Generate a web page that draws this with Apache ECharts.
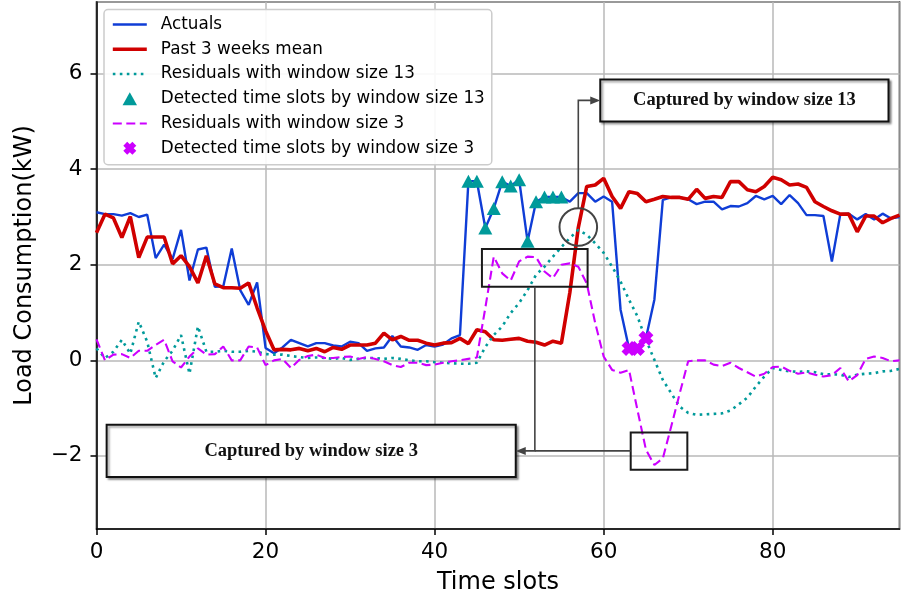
<!DOCTYPE html>
<html>
<head>
<meta charset="utf-8">
<script src="https://cdn.jsdelivr.net/npm/echarts@6/dist/echarts.min.js"></script>
<style>
  html, body { margin: 0; padding: 0; background: #ffffff; }
  #chart { width: 901px; height: 605px; }
</style>
</head>
<body>
<div id="chart"></div>
<script>
// Load profile for one day, 96 quarter-hour time slots
const actuals = [
  3.10, 3.06, 3.06, 3.03, 3.08, 3.00, 3.05, 2.14, 2.42, 2.12,
  2.73, 1.67, 2.32, 2.36, 1.54, 1.55, 2.34, 1.47, 1.16, 1.63,
  0.26, 0.15, 0.27, 0.43, 0.36, 0.29, 0.36, 0.36, 0.31, 0.29,
  0.39, 0.36, 0.20, 0.25, 0.27, 0.51, 0.29, 0.27, 0.22, 0.32,
  0.29, 0.33, 0.46, 0.53, 3.75, 3.75, 2.77, 3.18, 3.74, 3.65,
  3.78, 2.49, 3.32, 3.42, 3.42, 3.42, 3.32, 3.50, 3.50, 3.32,
  3.43, 3.32, 1.06, 0.25, 0.25, 0.46, 1.27, 3.36, 3.41, 3.41,
  3.37, 3.27, 3.32, 3.32, 3.16, 3.23, 3.22, 3.29, 3.44, 3.37,
  3.44, 3.27, 3.46, 3.29, 3.04, 3.04, 3.02, 2.07, 3.06, 3.07,
  2.95, 3.06, 2.95, 3.07, 2.97, 3.00
];
const pastMean = [
  2.67, 3.06, 2.98, 2.57, 3.01, 2.15, 2.58, 2.58, 2.58, 2.02,
  2.19, 1.96, 1.62, 2.19, 1.60, 1.52, 1.52, 1.51, 1.62, 1.10,
  0.62, 0.22, 0.23, 0.22, 0.25, 0.20, 0.25, 0.18, 0.27, 0.23,
  0.32, 0.32, 0.32, 0.36, 0.57, 0.43, 0.50, 0.42, 0.42, 0.36,
  0.32, 0.36, 0.37, 0.46, 0.35, 0.64, 0.60, 0.43, 0.42, 0.44,
  0.46, 0.40, 0.38, 0.32, 0.40, 0.36, 1.42, 2.78, 3.64, 3.67,
  3.81, 3.43, 3.18, 3.53, 3.49, 3.32, 3.37, 3.43, 3.41, 3.41,
  3.37, 3.58, 3.39, 3.43, 3.41, 3.74, 3.74, 3.57, 3.53, 3.64,
  3.83, 3.78, 3.67, 3.69, 3.62, 3.32, 3.22, 3.13, 3.06, 3.06,
  2.69, 3.02, 3.02, 2.88, 2.97, 3.04
];
const residuals13 = [
  0.25, 0.05, 0.18, 0.43, 0.14, 0.81, 0.39, -0.37, -0.02, 0.20,
  0.53, -0.28, 0.71, 0.18, 0.18, 0.20, 0.18, 0.18, 0.20, 0.18,
  0.13, 0.12, 0.12, 0.09, 0.07, 0.05, 0.06, 0.05, 0.03, 0.05,
  0.01, 0.03, 0.05, 0.05, 0.03, 0.05, 0.03, 0.00, -0.02, -0.02,
  -0.04, -0.05, -0.06, -0.07, -0.07, -0.05, 0.28, 0.53, 0.71, 0.99,
  1.20, 1.47, 1.79, 1.96, 2.17, 2.37, 2.56, 2.73, 2.63, 2.45,
  2.25, 1.96, 1.65, 1.27, 0.92, 0.43, 0.01, -0.41, -0.69, -0.97,
  -1.10, -1.14, -1.13, -1.12, -1.11, -1.05, -0.92, -0.78, -0.55, -0.34,
  -0.16, -0.20, -0.23, -0.24, -0.23, -0.25, -0.29, -0.29, -0.30, -0.35,
  -0.30, -0.28, -0.27, -0.23, -0.22, -0.18
];
const residuals3 = [
  0.44, 0.00, 0.12, 0.13, 0.05, 0.20, 0.20, 0.32, 0.43, -0.02,
  -0.15, 0.08, 0.25, 0.12, 0.13, 0.29, 0.00, 0.00, 0.29, 0.27,
  -0.10, 0.00, 0.03, -0.16, 0.01, 0.09, 0.12, 0.05, 0.05, 0.07,
  0.08, 0.03, 0.07, 0.03, -0.02, -0.10, -0.14, -0.05, -0.05, -0.10,
  -0.09, -0.05, -0.02, 0.00, 0.03, 0.06, 1.10, 2.17, 1.82, 1.67,
  2.07, 2.17, 2.16, 1.86, 1.72, 2.00, 2.03, 1.96, 1.61, 0.78,
  0.08, -0.20, -0.26, -0.20, -1.04, -1.87, -2.19, -2.05, -1.38, -0.69,
  -0.02, 0.00, 0.00, -0.09, -0.12, -0.05, -0.16, -0.25, -0.34, -0.28,
  -0.14, -0.13, -0.22, -0.28, -0.25, -0.30, -0.34, -0.31, -0.16, -0.44,
  -0.31, 0.03, 0.08, 0.05, -0.02, 0.00
];
// Slots flagged as anomalous by each residual window
const detected13 = [44, 45, 46, 47, 48, 49, 50, 51, 52, 53, 54, 55];
const detected3 = [63, 64, 65];

const xTicks = [0, 20, 40, 60, 80];
const yTicks = [-2, 0, 2, 4, 6];

const seriesNames = [
  'Actuals',
  'Past 3 weeks mean',
  'Residuals with window size 13',
  'Detected time slots by window size 13',
  'Residuals with window size 3',
  'Detected time slots by window size 3'
];

const BLUE = '#0f3dd6';
const RED = '#d00000';
const TEAL = '#009a9a';
const MAGENTA = '#cc00ff';
const AXIS_FONT = 'DejaVu Sans';
const NOTE_FONT = 'bold 18.5px "Liberation Serif", "Times New Roman", serif';

// marker shapes (path symbols keep their aspect inside the legend)
const TRIANGLE = 'path://M1,0 L2,1.8 L0,1.8 Z';
const X_MARK = 'path://M0.6,0 L1,0.4 L1.4,0 L2,0.6 L1.6,1 L2,1.4 L1.4,2 L1,1.6 L0.6,2 L0,1.4 L0.4,1 L0,0.6 Z';

const toPoints = arr => arr.map((v, i) => [i, v]);
const onActuals = idx => idx.map(i => [i, actuals[i]]);
const tickText = list => v => (list.indexOf(v) >= 0 ? (v < 0 ? '\u2212' + Math.abs(v) : String(v)) : '');

const axisCommon = {
  axisLine: { show: true, onZero: false, lineStyle: { color: '#000', width: 1.5 } },
  axisTick: { show: true, inside: false, length: 6, lineStyle: { color: '#000', width: 1.5 } },
  splitLine: { show: true, lineStyle: { color: '#b8b8b8', width: 1.5 } },
  nameTextStyle: { fontFamily: AXIS_FONT, fontSize: 24, color: '#000' }
};

const lineSpecs = [
  { color: BLUE, width: 2.4, type: 'solid' },
  { color: RED, width: 3.6, type: 'solid' },
  { color: TEAL, width: 2.6, type: [2.6, 4.4] },
  null,
  { color: MAGENTA, width: 2.1, type: [9, 4.5] },
  null
];

const option = {
  animation: false,
  backgroundColor: '#ffffff',
  grid: {
    left: 96.5, right: 1.5, top: 2, bottom: 76,
    show: true, borderColor: '#000', borderWidth: 1.5, containLabel: false
  },
  xAxis: Object.assign({}, axisCommon, {
    type: 'value', min: 0, max: 95, splitNumber: 5,
    name: 'Time slots', nameLocation: 'middle', nameGap: 42,
    axisLabel: { fontFamily: AXIS_FONT, fontSize: 21.5, color: '#000', margin: 12,
                 showMaxLabel: false, formatter: tickText(xTicks) }
  }),
  yAxis: Object.assign({}, axisCommon, {
    type: 'value', min: -3.53, max: 7.5, splitNumber: 5,
    name: 'Load Consumption(kW)', nameLocation: 'middle', nameGap: 60,
    axisLabel: { fontFamily: AXIS_FONT, fontSize: 21.5, color: '#000', margin: 14,
                 showMinLabel: false, showMaxLabel: false, formatter: tickText(yTicks) }
  }),
  legend: {
    orient: 'vertical', left: 104, top: 9.5,
    itemWidth: 34, itemHeight: 13, itemGap: 7.75,
    padding: [6.5, 7, 8, 7],
    backgroundColor: 'rgba(255,255,255,0.9)',
    borderColor: '#cccccc', borderWidth: 1.5, borderRadius: 4,
    symbolKeepAspect: true,
    textStyle: { fontFamily: AXIS_FONT, fontSize: 16.8, color: '#000', padding: [0, 0, 0, 9] },
    selectedMode: false,
    data: seriesNames.map((name, k) => lineSpecs[k]
      ? { name: name, itemStyle: { opacity: 0 },
          lineStyle: { color: lineSpecs[k].color, width: lineSpecs[k].width, type: lineSpecs[k].type } }
      : { name: name })
  },
  series: [
    {
      name: seriesNames[0], type: 'line', data: toPoints(actuals),
      symbol: 'none', showSymbol: false, z: 2,
      lineStyle: lineSpecs[0], itemStyle: { color: BLUE }
    },
    {
      name: seriesNames[1], type: 'line', data: toPoints(pastMean),
      symbol: 'none', showSymbol: false, z: 3,
      lineStyle: lineSpecs[1], itemStyle: { color: RED }
    },
    {
      name: seriesNames[2], type: 'line', data: toPoints(residuals13),
      symbol: 'none', showSymbol: false, z: 3,
      lineStyle: lineSpecs[2], itemStyle: { color: TEAL }
    },
    {
      name: seriesNames[3], type: 'scatter', data: onActuals(detected13),
      symbol: TRIANGLE, symbolSize: [14, 13], z: 4,
      itemStyle: { color: TEAL, opacity: 1 }
    },
    {
      name: seriesNames[4], type: 'line', data: toPoints(residuals3),
      symbol: 'none', showSymbol: false, z: 4,
      lineStyle: lineSpecs[4], itemStyle: { color: MAGENTA }
    },
    {
      name: seriesNames[5], type: 'scatter', data: onActuals(detected3),
      symbol: X_MARK, symbolSize: 15, z: 5,
      itemStyle: { color: MAGENTA, opacity: 1 }
    }
  ]
};

const chart = echarts.init(document.getElementById('chart'), null, { renderer: 'canvas' });
chart.setOption(option);

// Annotations, placed in data coordinates
const notes = {
  circle: { center: [57, 2.79], radius: 18.8 },
  peaks: { from: [45.6, 2.33], to: [58.1, 1.54] },
  valley: { from: [63.2, -1.51], to: [69.9, -2.29] },
  box13: { from: [59.6, 5.88], to: [93.7, 5.0], text: 'Captured by window size 13' },
  box3: { from: [1.2, -1.35], to: [49.6, -2.44], text: 'Captured by window size 3' },
  branchX: 51.86
};

const px = p => chart.convertToPixel({ gridIndex: 0 }, p);
function box(a, b) {
  const p1 = px(a), p2 = px(b);
  return {
    x: Math.min(p1[0], p2[0]), y: Math.min(p1[1], p2[1]),
    width: Math.abs(p2[0] - p1[0]), height: Math.abs(p2[1] - p1[1])
  };
}
const ARROW = '#444444';
const lineStyle = { stroke: ARROW, lineWidth: 1.6, fill: null };
function head(tipX, tipY, dir) {
  const L = 10, W = 4;
  return {
    type: 'polygon', z: 110,
    shape: { points: [[tipX, tipY], [tipX - dir * L, tipY - W], [tipX - dir * L, tipY + W]] },
    style: { fill: ARROW }
  };
}
function labelBox(b, text) {
  return [
    {
      type: 'rect', z: 105, shape: b,
      style: { fill: '#ffffff', stroke: '#111111', lineWidth: 2,
               shadowBlur: 2, shadowOffsetX: 2, shadowOffsetY: 2, shadowColor: 'rgba(0,0,0,0.35)' }
    },
    {
      type: 'text', z: 106,
      style: { text: text, x: b.x + b.width / 2, y: b.y + b.height / 2,
               align: 'center', verticalAlign: 'middle',
               textAlign: 'center', textVerticalAlign: 'middle',
               font: NOTE_FONT, fill: '#111111' }
    }
  ];
}

const c = px(notes.circle.center);
const rPeaks = box(notes.peaks.from, notes.peaks.to);
const rValley = box(notes.valley.from, notes.valley.to);
const b13 = box(notes.box13.from, notes.box13.to);
const b3 = box(notes.box3.from, notes.box3.to);
const mid13 = b13.y + b13.height / 2;
const mid3 = b3.y + b3.height / 2;
const bx = px([notes.branchX, 0])[0];

const graphics = [
  { type: 'rect', z: 100, shape: rPeaks, style: { fill: null, stroke: '#1a1a1a', lineWidth: 2 } },
  { type: 'rect', z: 100, shape: rValley, style: { fill: null, stroke: '#1a1a1a', lineWidth: 2 } },
  { type: 'circle', z: 100, shape: { cx: c[0], cy: c[1], r: notes.circle.radius },
    style: { fill: null, stroke: '#444444', lineWidth: 2 } },
  { type: 'polyline', z: 100, shape: { points: [[c[0], c[1] - notes.circle.radius], [c[0], mid13], [b13.x - 9, mid13]] }, style: lineStyle },
  head(b13.x, mid13, 1),
  { type: 'polyline', z: 100, shape: { points: [[bx, rPeaks.y + rPeaks.height], [bx, mid3], [b3.x + b3.width + 9, mid3]] }, style: lineStyle },
  { type: 'polyline', z: 100, shape: { points: [[rValley.x, mid3], [bx, mid3]] }, style: lineStyle },
  head(b3.x + b3.width, mid3, -1)
].concat(labelBox(b13, notes.box13.text), labelBox(b3, notes.box3.text));

chart.setOption({ graphic: graphics });
</script>
</body>
</html>
